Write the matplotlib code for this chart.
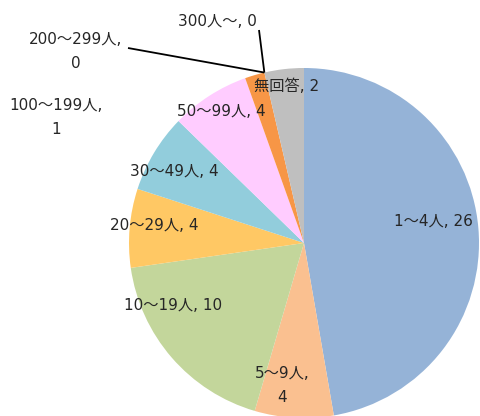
import numpy as np
import matplotlib.pyplot as plt

plt.rcParams['font.family'] = ['DejaVu Sans', 'Noto Sans CJK JP']

# 従業員規模別の回答数
categories = ['1～4人', '5～9人', '10～19人', '20～29人', '30～49人',
              '50～99人', '100～199人', '200～299人', '300人～', '無回答']
counts = [26, 4, 10, 4, 4, 4, 1, 0, 0, 2]
colors = ['#95b3d7', '#fac090', '#c3d69b', '#ffc864', '#92cddc',
          '#ffccff', '#f79646', '#4f81bd', '#c0504d', '#bfbfbf']

W, H = 481, 416
fig = plt.figure(figsize=(W / 100, H / 100), dpi=100)
ax = fig.add_axes([0, 0, 1, 1])

cx, cy, r = 304, H - 243, 175
wedges, _ = ax.pie(counts, colors=colors, startangle=90, counterclock=False,
                   center=(cx, cy), radius=r, frame=True,
                   wedgeprops=dict(linewidth=0))
ax.set_xlim(0, W)
ax.set_ylim(0, H)
ax.axis('off')

txt = dict(fontsize=11, color='#262626', ha='center', va='center')

# ラベル位置（ピクセル座標、上から）
label_pos = [(433, 222), (282, 385), (173, 305), (154, 225), (174, 172),
             (221, 112), (56, 117), (76, 52), (217, 21), (287, 86)]
two_line = {1, 6, 7}
for i, (name, v) in enumerate(zip(categories, counts)):
    x, y = label_pos[i]
    if i in two_line:
        s = f'{name},\n{v}'
        ax.text(x, H - y, s, linespacing=1.75, **txt)
    else:
        ax.text(x, H - y, f'{name}, {v}', **txt)

# 0件の区分は引出線で示す
for i, start in [(7, (128, 48)), (8, (259, 30))]:
    ang = np.deg2rad(wedges[i].theta1)
    ex, ey = cx + r * np.cos(ang), cy + r * np.sin(ang)
    ax.plot([start[0], ex], [H - start[1], ey], color='black', lw=1.3,
            solid_capstyle='butt')

fig.savefig('out.png', dpi=100, facecolor='white')
